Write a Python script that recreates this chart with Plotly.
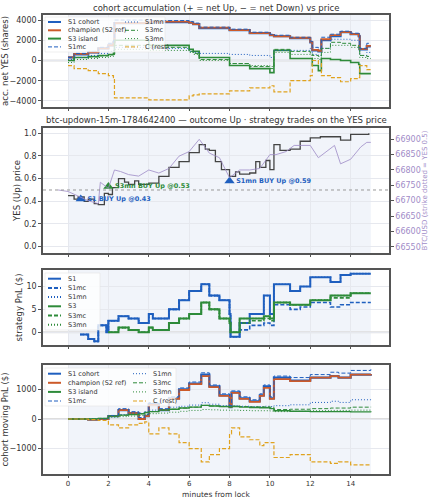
import plotly.graph_objects as go
from plotly.subplots import make_subplots

# ---- panel 1: accumulated net YES shares ----
t1 = [0, 0.3, 1, 1.5, 2, 2.25, 2.3, 4, 6, 6.2, 6.5, 8, 9, 10, 10.2, 11, 12, 12.1, 12.4, 12.55, 13, 13.5, 14, 14.4, 14.45, 14.8, 15]
s1_cohort_acc = [300, 600, 800, 1200, 1500, 1800, 3700, 3800, 3750, 3600, 3200, 3000, 2700, 2500, 2400, 2200, 1800, 1000, 900, 2000, 2400, 2800, 2600, 2400, 1100, 1400, 1400]
champ_acc = [300, 650, 800, 1200, 1500, 1800, 3700, 3850, 3750, 3600, 3250, 3000, 2700, 2500, 2400, 2250, 1850, 1050, 950, 2100, 2500, 2800, 2600, 2400, 1150, 1450, 1450]
s1mc_acc = [300, 700, 900, 1300, 1700, 2000, 4000, 3950, 3850, 3700, 3300, 3100, 2800, 2600, 2500, 2300, 1900, 1300, 1200, 2300, 2600, 2900, 2700, 2600, 1200, 1700, 1700]
s1mn_acc = [100, 300, 500, 700, 900, 1000, 1300, 1200, 900, 800, 700, 600, 500, 300, 1000, 1000, 1200, 600, 500, 1200, 2100, 2100, 2000, 1900, 500, 800, 800]
s3_acc = [0, 300, 400, 500, 600, 700, 2000, 1500, 1100, 900, 300, -500, -800, -1200, 1000, 200, 200, -500, -1000, 200, 100, 0, -200, -400, -1300, -1300, -1300]
s3mc_acc = [0, 300, 350, 450, 550, 600, 1500, 1300, 900, 700, 100, -300, -600, -800, 1100, 900, 700, 500, 400, 1200, 1800, 1700, 1500, 1200, 500, 400, 400]
s3mn_acc = [-200, 100, 200, 300, 400, 500, 1100, 1000, 800, 600, 0, -300, -500, -600, 800, 600, 500, 200, 100, 800, 1500, 1500, 1300, 1100, 300, 200, 200]
c_acc = [-500, -800, -1000, -1300, -1500, -1700, -3700, -3900, -3500, -3400, -3300, -3000, -2700, -2500, -3100, -2000, -1500, 0, -300, -1500, -1700, -2100, -1800, -1700, -500, -900, -1000]

# ---- panel 2: YES price, BTC price, trades ----
t_yes = [0, 0.3, 0.5, 0.8, 1, 1.3, 1.5, 1.8, 2, 2.2, 2.5, 2.8, 3, 3.3, 3.5, 4, 4.5, 5, 5.5, 6, 6.5, 6.8, 7, 7.3, 7.6, 8, 8.3, 8.5, 9, 9.3, 9.5, 9.8, 10, 10.2, 10.5, 11, 11.5, 12, 12.5, 13, 13.5, 14, 14.9]
yes_price = [0.45, 0.42, 0.44, 0.40, 0.42, 0.38, 0.37, 0.47, 0.46, 0.52, 0.60, 0.57, 0.55, 0.58, 0.55, 0.56, 0.62, 0.70, 0.75, 0.83, 0.90, 0.86, 0.85, 0.75, 0.68, 0.62, 0.66, 0.64, 0.65, 0.75, 0.70, 0.76, 0.68, 0.90, 0.85, 0.86, 0.93, 0.96, 0.97, 0.97, 0.94, 0.99, 1.0]
t_btc = [-0.5, 0, 0.5, 1, 1.5, 1.6, 2, 2.3, 2.6, 3, 3.5, 4, 4.5, 5, 5.5, 6, 6.5, 7, 7.5, 8, 8.5, 9, 9.5, 10, 10.3, 10.8, 11.2, 12, 12.4, 12.8, 13.2, 13.5, 14, 14.5, 14.8, 15]
btc_price = [66735, 66730, 66715, 66700, 66690, 66760, 66740, 66800, 66795, 66785, 66780, 66800, 66790, 66805, 66845, 66860, 66900, 66855, 66840, 66775, 66800, 66800, 66805, 66850, 66850, 66860, 66880, 66880, 66840, 66860, 66880, 66820, 66835, 66875, 66890, 66890]
trade_t = [0.63, 2.0, 8.0]
trade_px = [0.42, 0.53, 0.58]
trade_lbl = ["<b>S1 BUY Up @0.43</b>", "<b>S3mn BUY Up @0.53</b>", "<b>S1mn BUY Up @0.59</b>"]

# ---- panel 3: strategy PnL ----
t_s1 = [0.6, 1, 1.3, 1.5, 1.9, 2, 2.5, 3, 3.5, 4, 4.2, 5, 5.5, 6, 6.6, 7, 7.5, 8, 8.05, 8.5, 9, 9.7, 10, 10.2, 11, 11.5, 12, 13, 13.5, 14, 15]
s1_pnl = [-0.5, -1.5, -2, 1.5, 0, 2.5, 3.5, 3, 2, 4, 3, 5, 7, 9, 10.5, 8, 7, 4, -1, 2, 4, 8, 4, 10.5, 9, 10, 12, 11, 12.5, 12.8, 12.8]
s1mc_pnl = [-0.5, -1.5, -2, 1.5, 0, 2.5, 3.5, 3, 2, 4, 3, 5, 7, 9, 10.5, 8, 7, 4, -1, 0.5, 1.5, 2, 1.5, 6, 5, 5.5, 6.5, 5.5, 6, 6.5, 6.5]
s1mn_pnl = [-0.5, -1.5, -2, 1.5, 0, 2.5, 3.5, 3, 2, 4, 3, 5, 7, 9, 10.5, 8, 7, 4, -1, 2, 4, 8, 4, 10.5, 9, 10, 12, 11, 12.5, 12.8, 12.8]
t_s3 = [2, 2.5, 3, 3.5, 4, 4.2, 5, 5.5, 6, 6.6, 7, 7.5, 8, 8.05, 8.5, 9, 9.7, 10, 10.2, 11, 12, 13, 14, 15]
s3_pnl = [0, 1, 0.5, 0, 1, 0.5, 2, 3, 4, 6.5, 5, 3, 2, 0, 3, 3, 3.5, 3, 6.5, 6, 7, 8, 8.5, 8.5]
s3mc_pnl = [0, 1, 0.5, 0, 1, 0.5, 2, 3, 4, 6.5, 5, 3, 2, 0, 2, 2.5, 3, 2.5, 6.5, 6, 7, 7.5, 8.5, 8.5]
s3mn_pnl = [0, 1, 0.5, 0, 1, 0.5, 2, 3, 4, 6.5, 5, 3, 2, 0, 3, 3, 3.5, 3, 6.5, 6, 7, 8, 8.5, 8.5]

# ---- panel 4: cohort moving PnL ----
t4 = [0, 1, 1.5, 2, 2.5, 3, 3.5, 3.8, 4, 4.5, 5, 5.5, 6, 6.6, 7, 7.5, 8, 8.1, 8.5, 9, 9.5, 9.7, 10, 10.2, 11, 12, 13, 13.4, 14, 15]
s1_cohort_pnl = [0, -20, 0, 100, 300, 200, 0, 100, 500, 300, 700, 1000, 1200, 1500, 1100, 800, 400, 900, 700, 600, 800, 1100, 700, 1400, 1300, 1400, 1450, 1400, 1500, 1520]
champ_pnl = [0, -20, 0, 100, 300, 200, 0, 100, 480, 300, 680, 980, 1180, 1450, 1080, 780, 400, 880, 680, 580, 780, 1050, 680, 1350, 1280, 1400, 1450, 1400, 1500, 1520]
s1mc_pnl4 = [0, -20, 0, 120, 350, 250, 50, 150, 550, 350, 750, 1050, 1250, 1560, 1150, 850, 450, 950, 750, 650, 850, 1150, 750, 1450, 1400, 1500, 1580, 1550, 1640, 1680]
s1mn_pnl4 = [0, 0, 20, 100, 150, 200, 200, 250, 300, 300, 400, 430, 470, 550, 500, 450, 430, 450, 430, 420, 420, 430, 420, 450, 480, 560, 600, 560, 650, 700]
s3_pnl4 = [0, 0, 20, 100, 130, 150, 180, 220, 250, 300, 330, 370, 400, 460, 440, 420, 400, 420, 400, 390, 380, 380, 350, 280, 260, 250, 250, 250, 240, 230]
s3mc_pnl4 = [0, 0, 20, 100, 130, 150, 180, 220, 250, 300, 330, 370, 400, 460, 440, 420, 410, 430, 420, 410, 410, 410, 400, 320, 330, 350, 370, 370, 400, 410]
s3mn_pnl4 = [0, 0, 10, 60, 80, 100, 120, 150, 180, 200, 230, 260, 290, 320, 310, 300, 290, 300, 290, 280, 280, 280, 270, 250, 260, 280, 290, 290, 300, 300]
c_pnl4 = [0, -20, -50, -200, -300, -200, -150, -100, -500, -300, -500, -800, -1000, -1450, -1200, -1000, -500, -300, -600, -700, -900, -800, -800, -1300, -1200, -1450, -1500, -1450, -1550, -1560]

BLUE = "#1f5fbf"
RED = "#cc5a2a"
GREEN = "#2e8b3a"
ORANGE = "#e0a21e"
PURPLE = "#9f8cc8"
BG = "#f1f4fa"
DASH = "4px,2px"
DOT = "1px,2px"
BOTTOM = 474  # pixel row of the lowest plot frame
PH = BOTTOM - 15

fig = make_subplots(rows=4, cols=1, specs=[[{}], [{"secondary_y": True}], [{}], [{}]])
shapes = []
annotations = []


def line(x, y, color, dash="solid", width=1.6, row=1):
    fig.add_trace(go.Scatter(x=x, y=y, mode="lines", line_shape="hv", showlegend=False,
                             line=dict(color=color, dash=dash, width=width)),
                  row=row, col=1, secondary_y=False if row == 2 else None)


def px2paper(px, py):
    return (px - 43) / 346, (BOTTOM - py) / PH


def dom(top, bot):
    return [(BOTTOM - bot) / PH, (BOTTOM - top) / PH]


def legend_box(x0, y0, x1, y1):
    a, b = px2paper(x0, y1)
    c, d = px2paper(x1, y0)
    shapes.append(dict(type="rect", xref="paper", yref="paper", x0=a, y0=b, x1=c, y1=d,
                       fillcolor="rgba(255,255,255,0.8)", line=dict(color="#e4e4e4", width=0.6)))


def legend_entries(entries, px, py, dy, llen=13):
    for i, (name, color, dash, width) in enumerate(entries):
        y = py + i * dy
        xa, ya = px2paper(px, y)
        xb, _ = px2paper(px + llen, y)
        shapes.append(dict(type="line", xref="paper", yref="paper", x0=xa, x1=xb, y0=ya, y1=ya,
                           line=dict(color=color, dash=dash, width=width)))
        xt, _ = px2paper(px + llen + 5, y)
        annotations.append(dict(text=name, x=xt, y=ya, xref="paper", yref="paper", xanchor="left",
                                yanchor="middle", showarrow=False, font=dict(size=6.5, color="#333333")))


# panel 1
line(t1, s1_cohort_acc, BLUE, width=2.2)
line(t1, champ_acc, RED, width=1.8)
line(t1, s3_acc, GREEN, width=1.6)
line(t1, s1mc_acc, BLUE, DASH, 1)
line(t1, s1mn_acc, BLUE, DOT, 1)
line(t1, s3mc_acc, GREEN, DASH, 1)
line(t1, s3mn_acc, GREEN, DOT, 1)
line(t1, c_acc, ORANGE, DASH, 1.2)

# panel 2
fig.add_trace(go.Scatter(x=t_btc, y=btc_price, mode="lines", line=dict(color=PURPLE, width=1),
                         opacity=0.8, showlegend=False), row=2, col=1, secondary_y=True)
fig.add_trace(go.Scatter(x=t_yes, y=yes_price, mode="lines", line_shape="hv",
                         line=dict(color="#444444", width=1.3), showlegend=False), row=2, col=1, secondary_y=False)
fig.add_trace(go.Scatter(x=trade_t, y=trade_px, mode="markers+text", text=trade_lbl,
                         textposition="middle right",
                         textfont=dict(size=6.5, color=[BLUE, GREEN, BLUE], family="DejaVu Sans"),
                         marker=dict(symbol="triangle-up", size=9, color=[BLUE, GREEN, BLUE]),
                         showlegend=False), row=2, col=1, secondary_y=False)

# panel 3
line(t_s1, s1_pnl, BLUE, width=2, row=3)
line(t_s1, s1mc_pnl, BLUE, DASH, 1.6, row=3)
line(t_s1, s1mn_pnl, BLUE, DOT, 1.6, row=3)
line(t_s3, s3_pnl, GREEN, width=2, row=3)
line(t_s3, s3mc_pnl, GREEN, DASH, 1.6, row=3)
line(t_s3, s3mn_pnl, GREEN, DOT, 1.6, row=3)

# panel 4
line(t4, s1_cohort_pnl, BLUE, width=2.2, row=4)
line(t4, champ_pnl, RED, width=1.8, row=4)
line(t4, s3_pnl4, GREEN, width=1.4, row=4)
line(t4, s1mc_pnl4, BLUE, DASH, 1, row=4)
line(t4, s1mn_pnl4, BLUE, DOT, 1, row=4)
line(t4, s3mc_pnl4, GREEN, DASH, 1, row=4)
line(t4, s3mn_pnl4, GREEN, DOT, 1, row=4)
line(t4, c_pnl4, ORANGE, DASH, 1.2, row=4)

# shaded window and reference lines
for xr_, yr_ in [("x", "y"), ("x2", "y2"), ("x3", "y4"), ("x4", "y5")]:
    shapes.insert(0, dict(type="rect", xref=xr_, yref=yr_ + " domain", x0=0, x1=15, y0=0, y1=1,
                          fillcolor=BG, line_width=0, layer="below"))
for xr_, yr_ in [("x", "y"), ("x3", "y4"), ("x4", "y5")]:
    shapes.append(dict(type="line", xref=xr_ + " domain", yref=yr_, x0=0, x1=1, y0=0, y1=0,
                       line=dict(color="#dddddd", width=2), layer="below"))
shapes.append(dict(type="line", xref="x2 domain", yref="y2", x0=0, x1=1, y0=0.5, y1=0.5,
                   line=dict(color="#999999", width=1, dash="dot")))

legend_box(45, 17, 165, 52)
legend_entries([("S1 cohort", BLUE, "solid", 2), ("champion (S2 ref)", RED, "solid", 2),
                ("S3 island", GREEN, "solid", 2), ("S1mc", BLUE, DASH, 1)], 48, 22, 8.3)
legend_entries([("S1mn", BLUE, DOT, 1), ("S3mc", GREEN, DASH, 1),
                ("S3mn", GREEN, DOT, 1), ("C (rest)", ORANGE, DASH, 1)], 125, 22, 8.3)
legend_box(45, 273, 100, 330)
legend_entries([("S1", BLUE, "solid", 2), ("S1mc", BLUE, DASH, 2), ("S1mn", BLUE, DOT, 2),
                ("S3", GREEN, "solid", 2), ("S3mc", GREEN, DASH, 2), ("S3mn", GREEN, DOT, 2)],
               48, 278.7, 9.2)
legend_box(45, 368, 176, 406)
legend_entries([("S1 cohort", BLUE, "solid", 2), ("champion (S2 ref)", RED, "solid", 2),
                ("S3 island", GREEN, "solid", 2), ("S1mc", BLUE, DASH, 1)], 48, 373.7, 9.1)
legend_entries([("S1mn", BLUE, DOT, 1), ("S3mc", GREEN, DASH, 1),
                ("S3mn", GREEN, DOT, 1), ("C (rest)", ORANGE, DASH, 1)], 133, 373.7, 9.1)

annotations += [
    dict(text="cohort accumulation (+ = net Up, − = net Down) vs price", x=0.5, y=1.0, xref="paper",
         yref="paper", yanchor="bottom", showarrow=False, font=dict(size=8.5)),
    dict(text="btc-updown-15m-1784642400 — outcome Up · strategy trades on the YES price", x=0.5,
         y=dom(128, 253)[1] + 0.002, xref="paper", yref="paper", yanchor="bottom", showarrow=False,
         font=dict(size=8.5)),
    dict(text="minutes from lock", x=0.5, y=(BOTTOM - 501) / PH, xref="paper", yref="paper",
         yanchor="bottom", showarrow=False, font=dict(size=7.5)),
]

fig.update_layout(
    width=429, height=500, margin=dict(l=43, r=40, t=15, b=500 - BOTTOM),
    plot_bgcolor="white", paper_bgcolor="white", showlegend=False,
    font=dict(family="DejaVu Sans", size=8, color="#333333"),
    shapes=shapes, annotations=annotations,
)

axis_style = dict(showline=True, mirror=True, linecolor="#555555", linewidth=1.5, ticks="outside",
                  tickcolor="#555555", ticklen=2, gridcolor="#e6e8ee", zeroline=False,
                  tickfont=dict(size=7), automargin=False, domain=[0, 1])
for i in range(1, 5):
    fig.update_xaxes(range=[-1.24, 15.9], tickvals=[0, 2, 4, 6, 8, 10, 12, 14],
                     showticklabels=(i == 4), row=i, col=1, **axis_style)

fig.update_layout(
    yaxis=dict(domain=dom(15, 107), range=[-4600, 4500], tickvals=[-4000, -2000, 0, 2000, 4000],
               title=dict(text="acc. net YES (shares)", font=dict(size=8.5), standoff=2)),
    yaxis2=dict(domain=dom(128, 253), range=[-0.056, 1.047], tickvals=[0, 0.2, 0.4, 0.6, 0.8, 1.0],
                tickformat=".1f", title=dict(text="YES (Up) price", font=dict(size=8.5), standoff=2)),
    yaxis3=dict(range=[66529.5, 66936.8], tickvals=list(range(66550, 66901, 50)), tickformat="d",
                showgrid=False,
                title=dict(text="BTC/USD (strike dotted = YES 0.5)", font=dict(size=7, color=PURPLE), standoff=2)),
    yaxis4=dict(domain=dom(270, 345), range=[-2.8, 13.6], tickvals=[0, 5, 10],
                title=dict(text="strategy PnL ($)", font=dict(size=8.5), standoff=2)),
    yaxis5=dict(domain=dom(365, BOTTOM), range=[-1857, 1824], tickvals=[-1000, 0, 1000],
                title=dict(text="cohort moving PnL ($)", font=dict(size=8.5), standoff=2)),
)
for ax in ["yaxis", "yaxis2", "yaxis3", "yaxis4", "yaxis5"]:
    fig.layout[ax].update(showline=True, mirror=(ax != "yaxis3"), linecolor="#555555",
                          linewidth=1.5, ticks="outside", tickcolor="#555555", ticklen=3,
                          gridcolor="#e6e8ee", zeroline=False, tickfont=dict(size=8), automargin=False)
fig.layout.yaxis3.tickfont = dict(size=8, color=PURPLE)

fig.write_html("out.html", config={"displayModeBar": False},
               post_script="document.body.style.margin='0';")
